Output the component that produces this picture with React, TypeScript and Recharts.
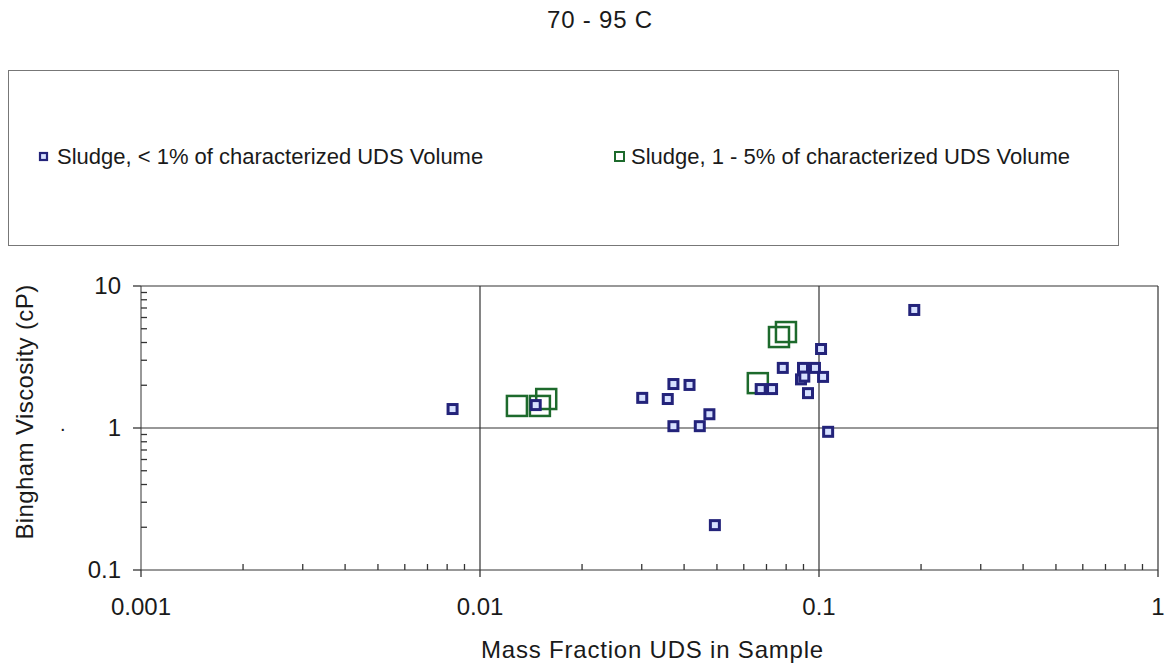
import React from 'react';
import {
  ScatterChart,
  Scatter,
  XAxis,
  YAxis,
  ReferenceLine,
} from 'recharts';

// Sludge, < 1% of characterized UDS volume
const lowFraction = [
  0.0083, 0.0146, 0.0301, 0.0358, 0.0372, 0.0372, 0.0415, 0.0445, 0.0475, 0.0493,
  0.0673, 0.0727, 0.0782, 0.0897, 0.0973, 0.1014, 0.0885, 0.0905, 0.1028, 0.0928,
  0.1064, 0.191,
];
const lowViscosity = [
  1.36, 1.45, 1.63, 1.6, 2.04, 1.03, 2.01, 1.03, 1.25, 0.207,
  1.88, 1.88, 2.65, 2.65, 2.65, 3.6, 2.2, 2.3, 2.29, 1.76,
  0.94, 6.78,
];

// Sludge, 1 - 5% of characterized UDS volume
const midFraction = [0.01285, 0.01502, 0.01568, 0.066, 0.0762, 0.0799];
const midViscosity = [1.43, 1.43, 1.6, 2.07, 4.37, 4.74];

const xTicks = [0.001, 0.01, 0.1, 1];
const yTicks = [0.1, 1, 10];
const xMinorTicks = [
  0.002, 0.003, 0.004, 0.005, 0.006, 0.007, 0.008, 0.009,
  0.02, 0.03, 0.04, 0.05, 0.06, 0.07, 0.08, 0.09,
  0.2, 0.3, 0.4, 0.5, 0.6, 0.7, 0.8, 0.9,
];
const yMinorTicks = [
  0.2, 0.3, 0.4, 0.5, 0.6, 0.7, 0.8, 0.9,
  2, 3, 4, 5, 6, 7, 8, 9,
];

const lowData = lowFraction.map((x, i) => ({ x, y: lowViscosity[i] }));
const midData = midFraction.map((x, i) => ({ x, y: midViscosity[i] }));

const font = '"Liberation Sans", Arial, sans-serif';
const ink = '#1a1a1a';
const lineColor = '#333';

const SmallSquare = (p: any) => (
  <rect x={p.cx - 4.5} y={p.cy - 4.5} width={9} height={9} fill="#d6e0ff" stroke="#23237a" strokeWidth={3} />
);

const BigSquare = (p: any) => (
  <rect x={p.cx - 10} y={p.cy - 10} width={20} height={20} fill="none" stroke="#1d6a2c" strokeWidth={2.5} />
);

// major ticks point out with a label, minor ticks point into the plot
const XTick = ({ x, y, payload }: any) => {
  const major = xTicks.includes(payload.value);
  return (
    <g>
      <line x1={x} x2={x} y1={y} y2={major ? y + 7 : y - 6} stroke={lineColor} strokeWidth={1.3} />
      {major && (
        <text x={x} y={y + 45} textAnchor="middle" fill={ink} fontSize={24} fontFamily={font}>
          {String(payload.value)}
        </text>
      )}
    </g>
  );
};

const YTick = ({ x, y, payload }: any) => {
  const major = yTicks.includes(payload.value);
  return (
    <g>
      <line x1={major ? x - 8 : x} x2={major ? x : x + 6} y1={y} y2={y} stroke={lineColor} strokeWidth={1.3} />
      {major && (
        <text x={x - 20} y={y + 8} textAnchor="end" fill={ink} fontSize={24} fontFamily={font}>
          {String(payload.value)}
        </text>
      )}
    </g>
  );
};

export default function App() {
  return (
    <div style={{ position: 'fixed', left: 0, top: 0, width: 1168, height: 668, background: '#fff', fontFamily: font, color: ink }}>
      <div style={{ position: 'absolute', left: 500, width: 200, top: 6, textAlign: 'center', fontSize: 24, letterSpacing: 0.8 }}>
        70 - 95 C
      </div>

      <div
        style={{
          position: 'absolute',
          left: 8,
          top: 70,
          width: 1111,
          height: 176,
          border: '1px solid #777',
          boxSizing: 'border-box',
        }}
      >
        <div style={{ position: 'absolute', left: 29, top: 73, fontSize: 22, display: 'flex', alignItems: 'center' }}>
          <svg width={12} height={12} style={{ marginRight: 7 }}>
            <rect x={2} y={2} width={7} height={7} fill="#d6e0ff" stroke="#23237a" strokeWidth={2.2} />
          </svg>
          Sludge, &lt; 1% of characterized UDS Volume
        </div>
        <div style={{ position: 'absolute', left: 604, top: 73, fontSize: 22, display: 'flex', alignItems: 'center' }}>
          <svg width={14} height={14} style={{ marginRight: 4 }}>
            <rect x={2} y={2} width={9} height={9} fill="none" stroke="#1d6a2c" strokeWidth={2} />
          </svg>
          Sludge, 1 - 5% of characterized UDS Volume
        </div>
      </div>

      <div style={{ position: 'absolute', left: 60, top: 413, fontSize: 20 }}>.</div>

      <div style={{ position: 'absolute', left: 0, top: 0 }}>
        <ScatterChart width={1168} height={668} margin={{ top: 286, right: 10, bottom: 58, left: 81 }}>
          <XAxis
            dataKey="x"
            type="number"
            scale="log"
            domain={[0.001, 1]}
            ticks={[...xTicks, ...xMinorTicks]}
            interval={0}
            allowDataOverflow
            height={40}
            stroke={lineColor}
            tickLine={false}
            tickSize={0}
            tickMargin={0}
            tick={<XTick />}
            label={{
              value: 'Mass Fraction UDS in Sample',
              position: 'insideBottom',
              offset: -48,
              fill: ink,
              fontSize: 24,
              fontFamily: font,
              letterSpacing: 0.8,
              dx: 3,
            }}
          />
          <YAxis
            dataKey="y"
            type="number"
            scale="log"
            domain={[0.1, 10]}
            ticks={[...yTicks, ...yMinorTicks]}
            interval={0}
            allowDataOverflow
            width={60}
            stroke={lineColor}
            tickLine={false}
            tickSize={0}
            tickMargin={0}
            tick={<YTick />}
            label={{
              value: 'Bingham Viscosity (cP)',
              angle: -90,
              position: 'insideLeft',
              offset: -57,
              dy: -16,
              style: { textAnchor: 'middle' },
              fill: ink,
              fontSize: 24,
              fontFamily: font,
              letterSpacing: 0.4,
            }}
          />
          <ReferenceLine x={0.01} stroke={lineColor} strokeWidth={1.2} />
          <ReferenceLine x={0.1} stroke={lineColor} strokeWidth={1.2} />
          <ReferenceLine x={1} stroke={lineColor} strokeWidth={1.2} />
          <ReferenceLine y={1} stroke={lineColor} strokeWidth={1.2} />
          <ReferenceLine y={10} stroke={lineColor} strokeWidth={1.2} />
          <Scatter data={midData} shape={BigSquare} isAnimationActive={false} />
          <Scatter data={lowData} shape={SmallSquare} isAnimationActive={false} />
        </ScatterChart>
      </div>
    </div>
  );
}
